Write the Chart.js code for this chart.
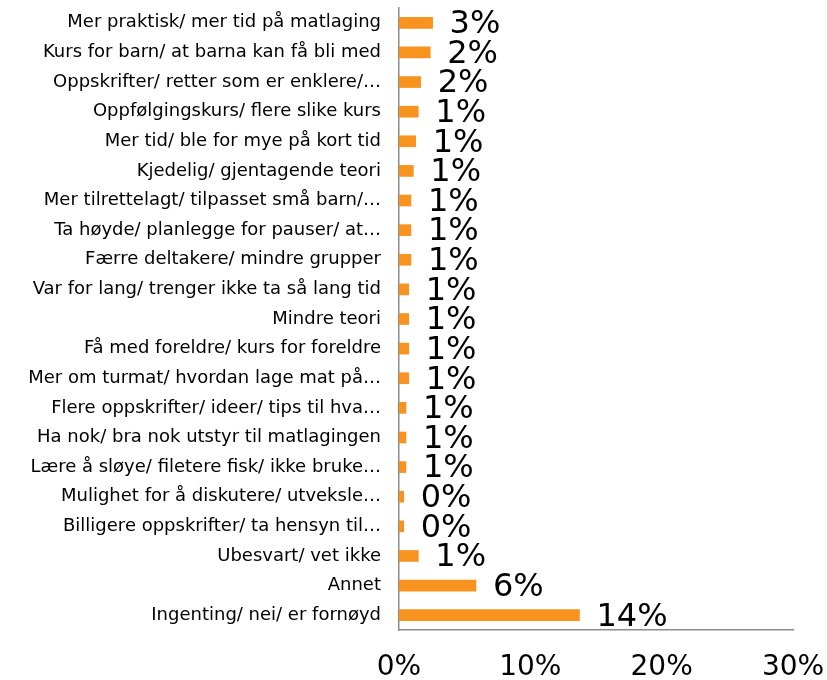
<!DOCTYPE html>
<html>
<head>
<meta charset="utf-8">
<script src="https://cdn.jsdelivr.net/npm/chart.js@4.4.0/dist/chart.umd.min.js"></script>
<style>
  body { margin: 0; background: #fff; }
  #myChart { display: block; }
</style>
</head>
<body>
<canvas id="myChart" width="827" height="680"></canvas>
<script>
var categories = [
    'Mer praktisk/ mer tid på matlaging',
    'Kurs for barn/ at barna kan få bli med',
    'Oppskrifter/ retter som er enklere/…',
    'Oppfølgingskurs/ flere slike kurs',
    'Mer tid/ ble for mye på kort tid',
    'Kjedelig/ gjentagende teori',
    'Mer tilrettelagt/ tilpasset små barn/…',
    'Ta høyde/ planlegge for pauser/ at…',
    'Færre deltakere/ mindre grupper',
    'Var for lang/ trenger ikke ta så lang tid',
    'Mindre teori',
    'Få med foreldre/ kurs for foreldre',
    'Mer om turmat/ hvordan lage mat på…',
    'Flere oppskrifter/ ideer/ tips til hva…',
    'Ha nok/ bra nok utstyr til matlagingen',
    'Lære å sløye/ filetere fisk/ ikke bruke…',
    'Mulighet for å diskutere/ utveksle…',
    'Billigere oppskrifter/ ta hensyn til…',
    'Ubesvart/ vet ikke',
    'Annet',
    'Ingenting/ nei/ er fornøyd'
];

var values = [2.56, 2.38, 1.65, 1.47, 1.27, 1.09, 0.91, 0.91, 0.91, 0.74, 0.74,
              0.74, 0.74, 0.53, 0.53, 0.53, 0.36, 0.36, 1.47, 5.86, 13.74];

var xTicks = [0, 10, 20, 30];

var barColor = '#F7931E';
var axisColor = '#8c8c8c';

// draws the big % labels next to each bar
var valueLabels = {
    id: 'valueLabels',
    afterDatasetsDraw: function (chart) {
        var ctx = chart.ctx;
        var meta = chart.getDatasetMeta(0);
        ctx.save();
        ctx.font = '32px "DejaVu Sans"';
        ctx.fillStyle = '#000';
        ctx.textAlign = 'left';
        ctx.textBaseline = 'middle';
        meta.data.forEach(function (bar, i) {
            ctx.fillText(Math.round(values[i]) + '%', bar.x + 17, bar.y + 2);
        });
        ctx.restore();
    }
};

var ctx = document.getElementById('myChart').getContext('2d');
var myChart = new Chart(ctx, {
    type: 'bar',
    data: {
        labels: categories,
        datasets: [{
            data: values,
            backgroundColor: barColor,
            barThickness: 11
        }]
    },
    options: {
        indexAxis: 'y',
        responsive: false,
        animation: false,
        layout: {
            padding: { top: 8, right: 34, bottom: 0, left: 0 }
        },
        scales: {
            x: {
                min: 0,
                max: 30,
                afterFit: function (scale) {
                    scale.height = 50;
                    scale.paddingLeft = 0;
                    scale.paddingRight = 0;
                },
                afterBuildTicks: function (scale) {
                    scale.ticks = xTicks.map(function (v) { return { value: v }; });
                },
                grid: { display: false, drawTicks: false },
                border: { display: true, color: axisColor, width: 1.5 },
                ticks: {
                    padding: 21,
                    color: '#000',
                    maxRotation: 0,
                    font: { family: 'DejaVu Sans', size: 28 },
                    callback: function (v) { return v + '%'; }
                }
            },
            y: {
                afterFit: function (scale) {
                    scale.width = 399;
                    scale.paddingTop = 0;
                    scale.paddingBottom = 0;
                },
                grid: { display: false, drawTicks: false },
                border: { display: true, color: axisColor, width: 1.5 },
                ticks: {
                    padding: 18,
                    color: '#000',
                    autoSkip: false,
                    font: { family: 'DejaVu Sans', size: 18 }
                }
            }
        },
        plugins: {
            legend: { display: false },
            tooltip: { enabled: false }
        }
    },
    plugins: [valueLabels]
});
</script>
</body>
</html>
